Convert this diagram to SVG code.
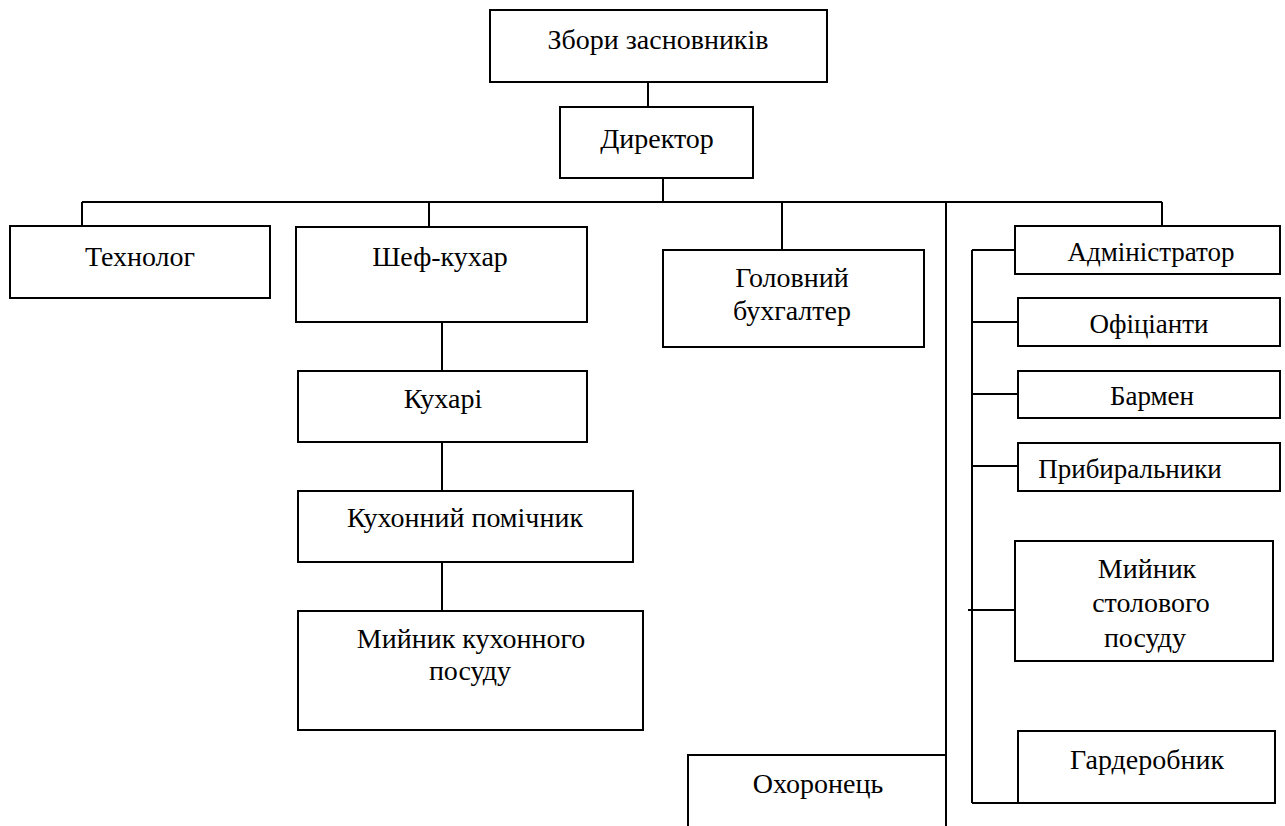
<svg xmlns="http://www.w3.org/2000/svg" width="1285" height="826" viewBox="0 0 1285 826">
<style>
.box{fill:#fff;stroke:#000;stroke-width:2}
.ln{fill:none;stroke:#000;stroke-width:2}
</style>
<rect width="1285" height="826" fill="#fff"/>
<g id="connectors">
<path class="ln" d="M648 82V107"/>
<path class="ln" d="M663 178V202"/>
<path class="ln" d="M82 202H1162"/>
<path class="ln" d="M82 202V226"/>
<path class="ln" d="M429 202V227"/>
<path class="ln" d="M782 202V250"/>
<path class="ln" d="M946 202V755"/>
<path class="ln" d="M1162 202V226"/>
<path class="ln" d="M442 322V371"/>
<path class="ln" d="M442 442V491"/>
<path class="ln" d="M442 562V611"/>
<path class="ln" d="M972 250V803"/>
<path class="ln" d="M972 250H1015"/>
<path class="ln" d="M972 322H1018"/>
<path class="ln" d="M972 394H1018"/>
<path class="ln" d="M972 466H1018"/>
<path class="ln" d="M968 610H1015"/>
<path class="ln" d="M972 803H1018"/>
</g>
<g id="nodes" font-family="Liberation Serif, DejaVu Serif, serif" font-size="28" text-anchor="middle" fill="#000">
<g id="n-zbory"><rect class="box" x="490" y="10" width="337" height="72"/><text x="658" y="49">Збори засновників</text></g>
<g id="n-dyrektor"><rect class="box" x="560" y="107" width="193" height="71"/><text x="657" y="148">Директор</text></g>
<g id="n-tekhnolog"><rect class="box" x="10" y="226" width="260" height="72"/><text x="140" y="266">Технолог</text></g>
<g id="n-shef"><rect class="box" x="296" y="227" width="291" height="95"/><text x="440" y="266">Шеф-кухар</text></g>
<g id="n-bukhhalter"><rect class="box" x="663" y="250" width="261" height="97"/><text x="792" y="287">Головний</text><text x="792" y="320">бухгалтер</text></g>
<g id="n-kukhari"><rect class="box" x="298" y="371" width="289" height="71"/><text x="443" y="408">Кухарі</text></g>
<g id="n-pomichnyk"><rect class="box" x="298" y="491" width="335" height="71"/><text x="465" y="527">Кухонний помічник</text></g>
<g id="n-myinyk-kukh"><rect class="box" x="298" y="611" width="345" height="119"/><text x="471" y="648">Мийник кухонного</text><text x="470" y="680">посуду</text></g>
<g id="n-okhoronets"><rect class="box" x="688" y="755" width="258" height="73"/><text x="818" y="793">Охоронець</text></g>
<g id="n-admin"><rect class="box" x="1015" y="226" width="265" height="48"/><text font-size="27" x="1151" y="261">Адміністратор</text></g>
<g id="n-ofitsianty"><rect class="box" x="1018" y="298" width="262" height="48"/><text font-size="27" x="1149" y="333">Офіціанти</text></g>
<g id="n-barmen"><rect class="box" x="1018" y="371" width="262" height="47"/><text font-size="27" x="1152" y="405">Бармен</text></g>
<g id="n-prybyralnyky"><rect class="box" x="1018" y="443" width="262" height="48"/><text font-size="27" x="1130" y="478">Прибиральники</text></g>
<g id="n-myinyk-stol"><rect class="box" x="1015" y="541" width="258" height="120"/><text x="1147" y="578">Мийник</text><text x="1151" y="612">столового</text><text x="1145" y="647">посуду</text></g>
<g id="n-harderobnyk"><rect class="box" x="1018" y="731" width="257" height="72"/><text x="1147" y="769">Гардеробник</text></g>
</g>
</svg>
